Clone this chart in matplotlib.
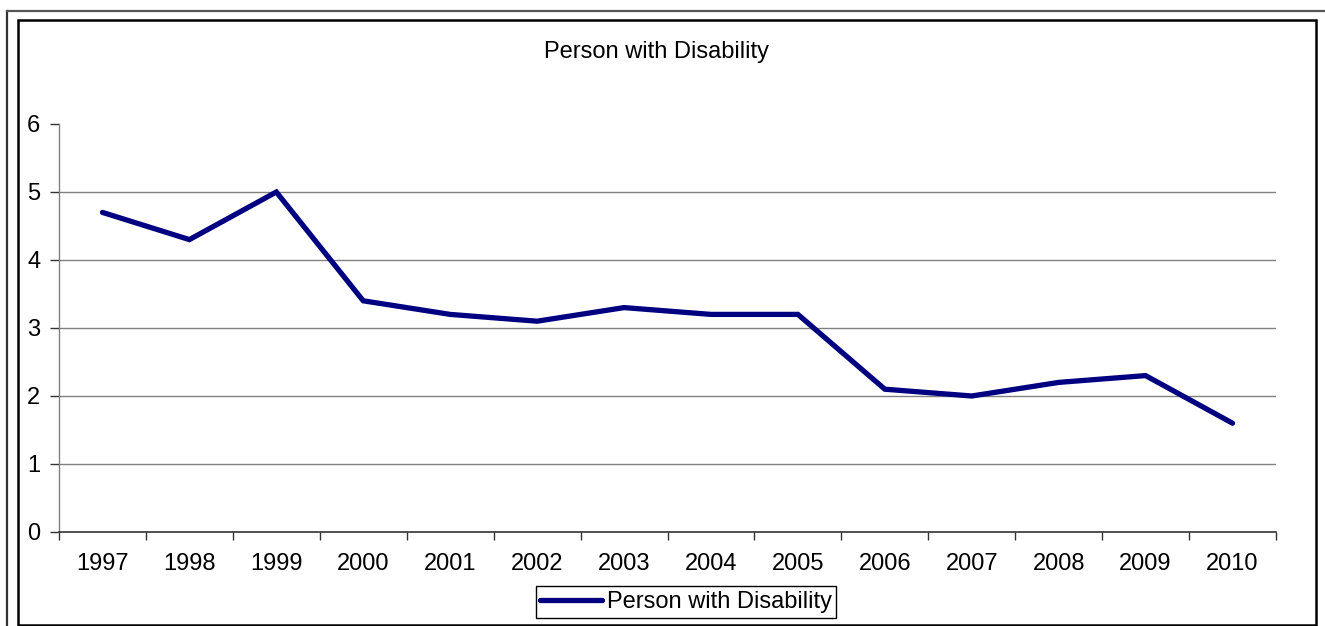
import numpy as np
import matplotlib.pyplot as plt
from matplotlib.patches import Rectangle
from matplotlib.lines import Line2D

years = ["1997", "1998", "1999", "2000", "2001", "2002", "2003",
         "2004", "2005", "2006", "2007", "2008", "2009", "2010"]
disability = [4.7, 4.3, 5.0, 3.4, 3.2, 3.1, 3.3, 3.2, 3.2, 2.1, 2.0, 2.2, 2.3, 1.6]
series_name = "Person with Disability"

plt.rcParams['font.family'] = ['Liberation Sans', 'DejaVu Sans']

fig = plt.figure(figsize=(13.25, 6.26), dpi=100)
W, H = 1325, 626

# chart frame (double border like the Excel export)
fig.add_artist(Line2D([7 / W, 7 / W], [0, 1 - 11 / H], transform=fig.transFigure,
                      color='#333333', lw=1.6))
fig.add_artist(Line2D([7 / W, 1], [1 - 11 / H, 1 - 11 / H], transform=fig.transFigure,
                      color='#555555', lw=1.6))
fig.add_artist(Rectangle((18 / W, 1 / H), (1316 - 18) / W, (625 - 20) / H,
                         transform=fig.transFigure, fill=False, ec='black', lw=1.8))

ax = fig.add_axes([59 / W, 1 - 532 / H, (1276 - 59) / W, (532 - 124) / H])
x = np.arange(len(years))
ax.plot(x, disability, color='#000080', lw=3.8, solid_joinstyle='miter',
        solid_capstyle='round', label=series_name, zorder=3)

ax.set_xlim(-0.5, len(years) - 0.5)
ax.set_ylim(0, 6)
ax.set_yticks(range(7))
ax.set_xticks(x)
ax.set_xticklabels(years)
ax.set_xticks(np.arange(-0.5, len(years)), minor=True)
ax.tick_params(axis='x', which='major', length=0, pad=15, labelsize=17)
ax.tick_params(axis='x', which='minor', length=6, width=1, color='#333333')
ax.tick_params(axis='y', length=6.5, width=1, color='#333333', pad=7, labelsize=17)

for v in range(1, 6):
    ax.axhline(v, color='#808080', lw=1, zorder=1)

for s in ['top', 'right']:
    ax.spines[s].set_visible(False)
ax.spines['left'].set_color('#808080')
ax.spines['bottom'].set_color('#333333')
ax.spines['left'].set_linewidth(1)
ax.spines['bottom'].set_linewidth(1.2)

fig.text(657 / W, 1 - 52 / H, series_name, ha='center', va='center', fontsize=17)

leg = fig.legend(loc='center', bbox_to_anchor=(686 / W, 1 - 602 / H), fontsize=17,
                 fancybox=False, framealpha=1, edgecolor='black', handlelength=2.6,
                 handletextpad=0.2, borderpad=0.2, borderaxespad=0)
leg.get_frame().set_linewidth(1)

fig.savefig("out.png", dpi=100)
